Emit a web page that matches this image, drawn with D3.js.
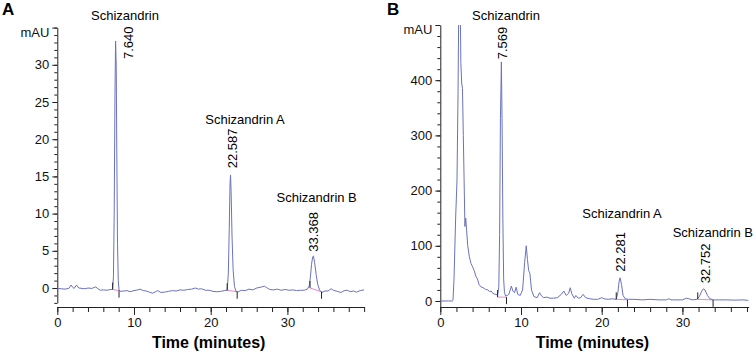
<!DOCTYPE html>
<html>
<head>
<meta charset="utf-8">
<script src="https://cdn.jsdelivr.net/npm/d3@7"></script>
<style>
  html, body { margin: 0; padding: 0; background: #fff; }
  svg { display: block; font-family: 'Liberation Sans', Arial, sans-serif; }
</style>
</head>
<body>
<div id="chart"></div>
<script>
// Panel A: standard mixture chromatogram (time in minutes, signal in mAU)
const timeA = [0, 0.5, 1.0, 1.5, 1.8, 2.0, 2.2, 2.5, 2.8, 3.2, 3.6, 4.0, 4.5, 5.0, 5.3, 5.6, 6.0, 6.5, 6.9, 7.2,
  7.32, 7.42, 7.52, 7.6, 7.68, 7.76, 7.85, 7.95, 8.05, 8.3, 8.7, 9.1, 9.5, 10.0, 10.5, 10.8, 11.2, 11.6, 12.0, 12.4,
  12.8, 13.1, 13.5, 14.0, 14.5, 15.0, 15.5, 16.0, 16.5, 17.0, 17.5, 18.0, 18.4, 18.8, 19.3, 19.8, 20.3, 20.8, 21.3, 21.8,
  22.15, 22.3, 22.42, 22.52, 22.587, 22.66, 22.78, 22.92, 23.1, 23.3, 23.6, 24.0, 24.5, 25.0, 25.5, 26.0, 26.5, 27.0, 27.3, 27.7,
  28.2, 28.7, 29.2, 29.7, 30.2, 30.7, 31.2, 31.7, 32.2, 32.6, 32.85, 33.0, 33.15, 33.3, 33.4, 33.55, 33.75, 33.95, 34.2, 34.5,
  34.9, 35.3, 35.7, 36.0, 36.5, 37.0, 37.4, 37.8, 38.2, 38.6, 39.0, 39.5, 40.0];
const signalA = [-0.05, -0.1, -0.15, -0.05, 0.4, 0.1, -0.05, 0.4, 0.0, -0.05, -0.1, 0.0, -0.05, 0.15, -0.1, -0.3, -0.25, -0.3, -0.2, -0.2,
  1.5, 10, 26, 33.2, 30, 18, 6, 1, -0.3, -0.45, -0.4, -0.35, -0.5, -0.35, -0.25, -0.15, -0.35, -0.4, -0.55, -0.7,
  -0.5, -0.35, -0.6, -0.55, -0.45, -0.35, -0.4, -0.25, -0.3, -0.2, -0.15, 0.0, -0.15, -0.1, -0.3, -0.3, -0.45, -0.5, -0.45, -0.35,
  -0.3, 2, 8, 14, 15.2, 13, 7, 2.5, 0.2, -0.45, -0.5, -0.3, -0.35, -0.15, -0.25, 0.0, 0.1, 0.25, 0.05, -0.2,
  -0.25, -0.15, -0.3, -0.2, -0.3, -0.25, -0.35, -0.3, -0.3, -0.15, 0.3, 1.5, 3.2, 4.2, 4.3, 3.4, 1.8, 0.5, -0.3, -0.6,
  -0.4, -0.4, -0.1, -0.3, -0.45, -0.6, -0.35, -0.3, -0.5, -0.4, -0.55, -0.35, -0.25];
const peakNamesA = ['Schizandrin', 'Schizandrin A', 'Schizandrin B'];
const peakTimesA = ['7.640', '22.587', '33.368'];
// integration baselines: [start time, start value, end time, end value]
const integA = [[7.22, -0.2, 8.05, -0.35], [22.15, -0.3, 23.45, -0.5], [32.95, 0.0, 34.45, -0.5]];

// Panel B: sample extract chromatogram
const timeB = [0, 1.0, 1.5, 1.57, 1.7, 1.9, 2.07, 2.2, 2.3, 2.38, 2.45, 2.55, 2.65, 2.75, 2.85, 2.95, 3.05, 3.15, 3.25, 3.4,
  3.6, 3.8, 4.0, 4.2, 4.4, 4.6, 4.8, 5.0, 5.3, 5.6, 5.9, 6.1, 6.3, 6.5, 6.8, 7.1, 7.25, 7.35, 7.45, 7.569,
  7.65, 7.75, 7.85, 7.95, 8.1, 8.3, 8.5, 8.8, 9.0, 9.2, 9.4, 9.6, 9.9, 10.2, 10.45, 10.65, 10.8, 10.95, 11.1, 11.3,
  11.6, 12.0, 12.3, 12.5, 12.8, 13.2, 13.6, 14.0, 14.5, 15.0, 15.3, 15.6, 15.9, 16.1, 16.3, 16.6, 16.8, 17.1, 17.4, 17.7,
  18.0, 18.5, 19.0, 19.5, 20.0, 20.3, 20.8, 21.3, 21.8, 22.0, 22.15, 22.281, 22.45, 22.65, 22.9, 23.3, 24.0, 25.0, 26.0, 27.0,
  28.0, 28.3, 28.6, 29.0, 30.0, 30.5, 30.8, 31.2, 31.8, 32.1, 32.4, 32.6, 32.8, 33.1, 33.4, 33.8, 34.5, 35.5, 36.5, 37.5, 38.2];
const signalB = [0, 0, 0, 1, 40, 150, 219, 380, 560, 640, 560, 430, 395, 385, 300, 220, 135, 150, 130, 100,
  80, 68, 62, 55, 45, 40, 30, 26, 24, 21, 20, 17, 18, 14, 12, 11, 25, 120, 330, 433,
  330, 150, 40, 15, 9, 10, 12, 27, 18, 15, 25, 12, 10, 20, 70, 100, 75, 55, 50, 20,
  8, 6, 15, 10, 6, 7, 5, 5, 6, 12, 18, 10, 14, 24, 13, 5, 10, 5, 6, 12,
  6, 4, 3, 3, 6, 4, 3, 4, 3, 15, 35, 42, 30, 10, 4, 3, 3, 2, 3, 2,
  2, 4, 2, 2, 2, 5, 4, 2, 3, 8, 18, 22, 20, 10, 4, 2, 2, 2, 1.5, 2, 1];
const peakNamesB = ['Schizandrin', 'Schizandrin A', 'Schizandrin B'];
const peakTimesB = ['7.569', '22.281', '32.752'];
const integB = [[7.1, 7, 8.2, 7], [21.8, 3, 23.2, 2], [31.9, 3, 33.8, 2]];

const xTicksMajor = [0, 10, 20, 30];

const LINE_COLOR = '#6a72bd';
const BASE_COLOR = '#e88ac8';
const AXIS_COLOR = '#222';

const svg = d3.select('#chart').append('svg').attr('width', 754).attr('height', 356);

// positions of each panel and its peak labels (pixels)
const panels = [
  {
    id: 'A', letterX: 2, time: timeA, signal: signalA, names: peakNamesA, rts: peakTimesA, integ: integA,
    xDomain: [0, 40], xRange: [57.3, 364.1], yDomain: [-2, 35], yRange: [302.9, 27.6],
    yMajor: 5, yMinor: 1, xAxisY: 307,
    labels: [
      { rtX: 12.4, rtBottom: 59, nameX: 125, nameY: 20 },
      { rtX: 1.5, rtBottom: 168.3, nameX: 245, nameY: 124 },
      { rtX: -0.4, rtBottom: 251.7, nameX: 316.7, nameY: 201.5 }
    ]
  },
  {
    id: 'B', letterX: 387, time: timeB, signal: signalB, names: peakNamesB, rts: peakTimesB, integ: integB,
    xDomain: [0, 38.2], xRange: [440.3, 748.6], yDomain: [-10, 500], yRange: [306.5, 25],
    yMajor: 100, yMinor: 20, xAxisY: 307,
    labels: [
      { rtX: 1.3, rtBottom: 59.3, nameX: 506, nameY: 20 },
      { rtX: 0.2, rtBottom: 271.7, nameX: 622, nameY: 218 },
      { rtX: 0.7, rtBottom: 283.3, nameX: 712.8, nameY: 236.5 }
    ]
  }
];

panels.forEach(p => {
  const x = d3.scaleLinear().domain(p.xDomain).range(p.xRange);
  const y = d3.scaleLinear().domain(p.yDomain).range(p.yRange);
  const g = svg.append('g');

  // panel letter
  g.append('text')
    .attr('x', p.letterX).attr('y', 14.5)
    .attr('font-size', '17px').attr('font-weight', 'bold')
    .text(p.id);

  // y axis: minor then major ticks
  const yTop = p.yDomain[1];
  const yMinorVals = d3.range(Math.ceil(p.yDomain[0] / p.yMinor) * p.yMinor, yTop + 0.001, p.yMinor);
  const yMajorVals = d3.range(0, yTop + 0.001, p.yMajor);

  const yMinorAxis = g.append('g')
    .attr('transform', `translate(${p.xRange[0]},0)`)
    .call(d3.axisLeft(y).tickValues(yMinorVals).tickSize(3).tickSizeOuter(0).tickFormat(''));
  yMinorAxis.select('.domain').attr('stroke', AXIS_COLOR);

  const yAxis = g.append('g')
    .attr('transform', `translate(${p.xRange[0]},0)`)
    .call(d3.axisLeft(y).tickValues(yMajorVals).tickSize(5).tickSizeOuter(0).tickPadding(3)
      .tickFormat(d => d === yTop ? 'mAU' : d));
  yAxis.select('.domain').remove();
  // unit label sits just below the top tick
  yAxis.selectAll('.tick text').filter(d => d === yTop).attr('y', 4.5);

  // x axis
  const xMinorVals = d3.range(p.xDomain[0], p.xDomain[1] + 0.001, 2);
  const xMinorAxis = g.append('g')
    .attr('transform', `translate(0,${p.xAxisY})`)
    .call(d3.axisBottom(x).tickValues(xMinorVals).tickSize(5).tickSizeOuter(0).tickFormat(''));
  xMinorAxis.select('.domain').attr('stroke', AXIS_COLOR);

  const xAxis = g.append('g')
    .attr('transform', `translate(0,${p.xAxisY})`)
    .call(d3.axisBottom(x).tickValues(xTicksMajor).tickSize(8).tickSizeOuter(0).tickPadding(3));
  xAxis.select('.domain').remove();

  g.selectAll('.tick line').attr('stroke', AXIS_COLOR);
  g.selectAll('.tick text')
    .attr('font-size', '13px')
    .attr('font-family', "'Liberation Sans', Arial, sans-serif")
    .attr('fill', '#111');

  // x axis title
  g.append('text')
    .attr('x', (p.xRange[0] + p.xRange[1]) / 2 - 2)
    .attr('y', 348)
    .attr('text-anchor', 'middle')
    .attr('font-size', '16px')
    .attr('font-weight', 'bold')
    .text('Time (minutes)');

  // clip to plot area
  const clipId = `clip-${p.id}`;
  svg.append('clipPath').attr('id', clipId)
    .append('rect')
    .attr('x', p.xRange[0]).attr('y', p.yRange[1])
    .attr('width', p.xRange[1] - p.xRange[0])
    .attr('height', p.yRange[0] - p.yRange[1] + 4);

  const pts = p.time.map((t, i) => [t, p.signal[i]]);
  const line = d3.line().x(d => x(d[0])).y(d => y(d[1]));

  const plot = g.append('g').attr('clip-path', `url(#${clipId})`);

  // integration baselines
  p.integ.forEach(b => {
    plot.append('line')
      .attr('x1', x(b[0])).attr('y1', y(b[1]))
      .attr('x2', x(b[2])).attr('y2', y(b[3]))
      .attr('stroke', BASE_COLOR).attr('stroke-width', 1);
  });

  plot.append('path')
    .datum(pts)
    .attr('fill', 'none')
    .attr('stroke', LINE_COLOR)
    .attr('stroke-width', 1)
    .attr('stroke-linejoin', 'round')
    .attr('d', line);

  // peak start / end markers
  p.integ.forEach(b => {
    plot.append('line')
      .attr('x1', x(b[0])).attr('x2', x(b[0]))
      .attr('y1', y(b[1])).attr('y2', y(b[1]) - 7)
      .attr('stroke', '#222').attr('stroke-width', 1);
    plot.append('line')
      .attr('x1', x(b[2])).attr('x2', x(b[2]))
      .attr('y1', y(b[3])).attr('y2', y(b[3]) + 7)
      .attr('stroke', '#222').attr('stroke-width', 1);
  });

  // peak labels
  p.names.forEach((name, i) => {
    const L = p.labels[i];
    const rt = +p.rts[i];
    const cx = x(rt) + L.rtX;
    g.append('text')
      .attr('transform', `translate(${cx + 4.7},${L.rtBottom}) rotate(-90)`)
      .attr('font-size', '13px')
      .text(p.rts[i]);
    g.append('text')
      .attr('x', L.nameX).attr('y', L.nameY)
      .attr('text-anchor', 'middle')
      .attr('font-size', '13px')
      .text(name);
  });
});
</script>
</body>
</html>
